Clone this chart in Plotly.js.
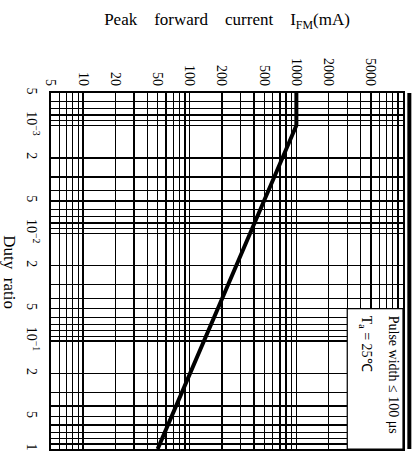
<!DOCTYPE html>
<html>
<head>
<meta charset="utf-8">
<script src="https://cdn.plot.ly/plotly-3.0.1.min.js"></script>
<style>html,body{margin:0;padding:0;background:#fff;}#chart{width:413px;height:452px;}</style>
</head>
<body>
<div id="chart"></div>
<script>
// ---- data ----
const dutyRatio = [5e-4, 1.0e-3, 1];          // duty ratio (log axis, vertical, increasing downward)
const peakCurrent = [1000, 1000, 50];          // peak forward current I_FM (mA)

const currentTickVals = [5, 10, 20, 50, 100, 200, 500, 1000, 2000, 5000];
const currentTickText = ['5', '10', '20', '50', '100', '200', '500', '1000', '2000', '5000'];
const dutyTickVals = [5e-4, 1e-3, 2e-3, 5e-3, 1e-2, 2e-2, 5e-2, 1e-1, 2e-1, 5e-1, 1];
const dutyTickText = ['5', '10<sup>−3</sup>', '2', '5', '10<sup>−2</sup>', '2', '5', '10<sup>−1</sup>', '2', '5', '1'];

const currentMin = 5, currentMax = 10000;
const dutyMin = 5e-4, dutyMax = 1;

// minor grid lines: every 1..9 x 10^n inside the range
function logGrid(lo, hi) {
  const out = [];
  for (let e = Math.floor(Math.log10(lo)); e <= Math.ceil(Math.log10(hi)); e++) {
    for (let m = 1; m <= 9; m++) {
      const v = m * Math.pow(10, e);
      if (v >= lo * 0.999 && v <= hi * 1.001) out.push(v);
    }
  }
  return out;
}

// fraction of the plot area for a value on a log axis
function fracX(v) { return (Math.log10(v) - Math.log10(currentMin)) / (Math.log10(currentMax) - Math.log10(currentMin)); }
function fracY(v) { return (Math.log10(dutyMax) - Math.log10(v)) / (Math.log10(dutyMax) - Math.log10(dutyMin)); }

const serif = 'Liberation Serif, Times New Roman, serif';
const sp = '&nbsp;&nbsp;&nbsp;&nbsp;';

const trace = {
  x: peakCurrent,
  y: dutyRatio,
  type: 'scatter',
  mode: 'lines',
  line: {color: '#000', width: 4},
  hoverinfo: 'skip'
};

const layout = {
  width: 413,
  height: 452,
  margin: {l: 51, r: 10, t: 93, b: 3},
  paper_bgcolor: '#fff',
  plot_bgcolor: '#fff',
  showlegend: false,
  font: {family: serif, color: '#000', size: 13},
  xaxis: {
    type: 'log',
    side: 'top',
    range: [Math.log10(currentMin), Math.log10(currentMax)],
    tickmode: 'array',
    tickvals: currentTickVals,
    ticktext: currentTickText,
    tickangle: 90,
    ticks: '',
    showgrid: true,
    gridcolor: '#000',
    gridwidth: 1.4,
    minor: {tickvals: logGrid(currentMin, currentMax), showgrid: true, gridcolor: '#000', gridwidth: 1.4, ticks: ''},
    showline: true, linecolor: '#000', linewidth: 2, mirror: true,
    zeroline: false,
    tickfont: {family: serif, size: 14, color: '#000'},
    title: {
      text: 'Peak' + sp + 'forward' + sp + 'current' + sp + 'I<sub>FM</sub>(mA)',
      font: {family: serif, size: 17, color: '#000'},
      standoff: 28
    }
  },
  yaxis: {
    type: 'log',
    range: [Math.log10(dutyMax), Math.log10(dutyMin)],
    tickmode: 'array',
    tickvals: dutyTickVals,
    ticktext: dutyTickText,
    tickangle: 90,
    ticks: '',
    ticklabelstandoff: 5,
    showgrid: true,
    gridcolor: '#000',
    gridwidth: 1.4,
    minor: {tickvals: logGrid(dutyMin, dutyMax), showgrid: true, gridcolor: '#000', gridwidth: 1.4, ticks: ''},
    showline: true, linecolor: '#000', linewidth: 2, mirror: true,
    zeroline: false,
    tickfont: {family: serif, size: 14, color: '#000'}
  },
  shapes: [
    {type: 'rect', xref: 'paper', yref: 'paper', layer: 'above',
     x0: fracX(3000), x1: 1, y0: 0, y1: fracY(0.05),
     fillcolor: '#fff', line: {color: '#000', width: 1.2}},
    {type: 'line', xref: 'paper', yref: 'paper', x0: 1.018, x1: 1.018, y0: 0, y1: 1,
     line: {color: '#000', width: 4}}
  ],
  annotations: [
    {text: 'Duty&nbsp;&nbsp;ratio', textangle: 90, showarrow: false,
     xref: 'paper', yref: 'paper', x: -0.117, y: 0.497, xanchor: 'center', yanchor: 'middle',
     font: {family: serif, size: 17, color: '#000'}},
    {text: 'Pulse width ≤ 100 μs', textangle: 90, showarrow: false,
     xref: 'paper', yref: 'paper', x: 0.9716, y: 0.38, xanchor: 'center', yanchor: 'top',
     font: {family: serif, size: 14, color: '#000'}},
    {text: 'T<sub>a</sub> = 25℃', textangle: 90, showarrow: false,
     xref: 'paper', yref: 'paper', x: 0.892, y: 0.38, xanchor: 'center', yanchor: 'top',
     font: {family: serif, size: 14, color: '#000'}}
  ]
};

Plotly.newPlot('chart', [trace], layout, {displayModeBar: false, staticPlot: true});
</script>
</body>
</html>
